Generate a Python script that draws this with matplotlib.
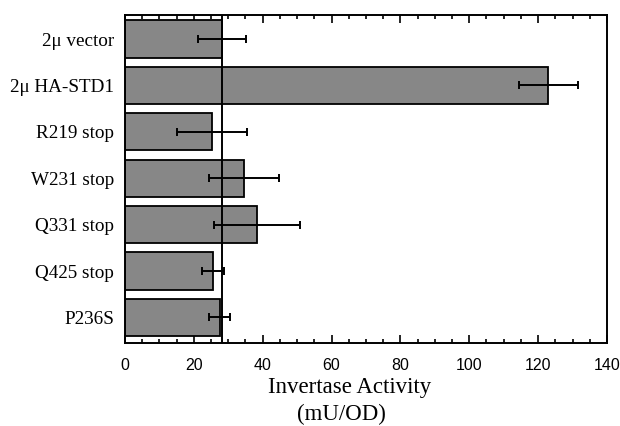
# Invertase activity bar chart, redrawn from the figure

import matplotlib.pyplot as plt
import numpy as np
from matplotlib.ticker import MultipleLocator

# data
strains = ['2\u03bc vector', '2\u03bc HA-STD1', 'R219 stop', 'W231 stop',
           'Q331 stop', 'Q425 stop', 'P236S']
activity = [28.2, 123.0, 25.3, 34.5, 38.3, 25.5, 27.5]
errors = [7.0, 8.7, 10.2, 10.2, 12.4, 3.2, 3.0]
baseline = 28.2

fig = plt.figure(figsize=(6.2, 4.26), dpi=100)
ax = fig.add_axes([0.2016, 0.195, 0.7774, 0.770])

ypos = np.arange(len(strains))
ax.barh(ypos, activity, height=0.8, color='#878787', edgecolor='black',
        linewidth=1.3, zorder=2)
ax.errorbar(activity, ypos, xerr=errors, fmt='none', ecolor='black',
            elinewidth=1.4, capsize=3, capthick=1.4, zorder=3)
ax.axvline(baseline, color='black', linewidth=1.4, zorder=4)

ax.set_xlim(0, 140)
ax.set_ylim(6.55, -0.52)
ax.set_yticks(ypos)
ax.set_yticklabels(strains, family='Liberation Serif', fontsize=13.8)
ax.tick_params(axis='y', length=0, pad=8)

ax.xaxis.set_major_locator(MultipleLocator(20))
ax.xaxis.set_minor_locator(MultipleLocator(5))
ax.tick_params(axis='x', which='both', direction='in', top=True, bottom=True,
               width=1.2)
ax.tick_params(axis='x', which='major', length=6, pad=11, labelsize=11.5)
ax.tick_params(axis='x', which='minor', length=3)
for lab in ax.get_xticklabels():
    lab.set_family('Liberation Sans')

for sp in ax.spines.values():
    sp.set_linewidth(1.4)

# axis title, two lines slightly offset as in the original
fig.text(0.5645, 0.0775, 'Invertase Activity', family='Liberation Serif',
         fontsize=16.5, ha='center', va='baseline')
fig.text(0.551, 0.0145, '(mU/OD)', family='Liberation Serif',
         fontsize=16.5, ha='center', va='baseline')

fig.savefig('out.png', dpi=100)
